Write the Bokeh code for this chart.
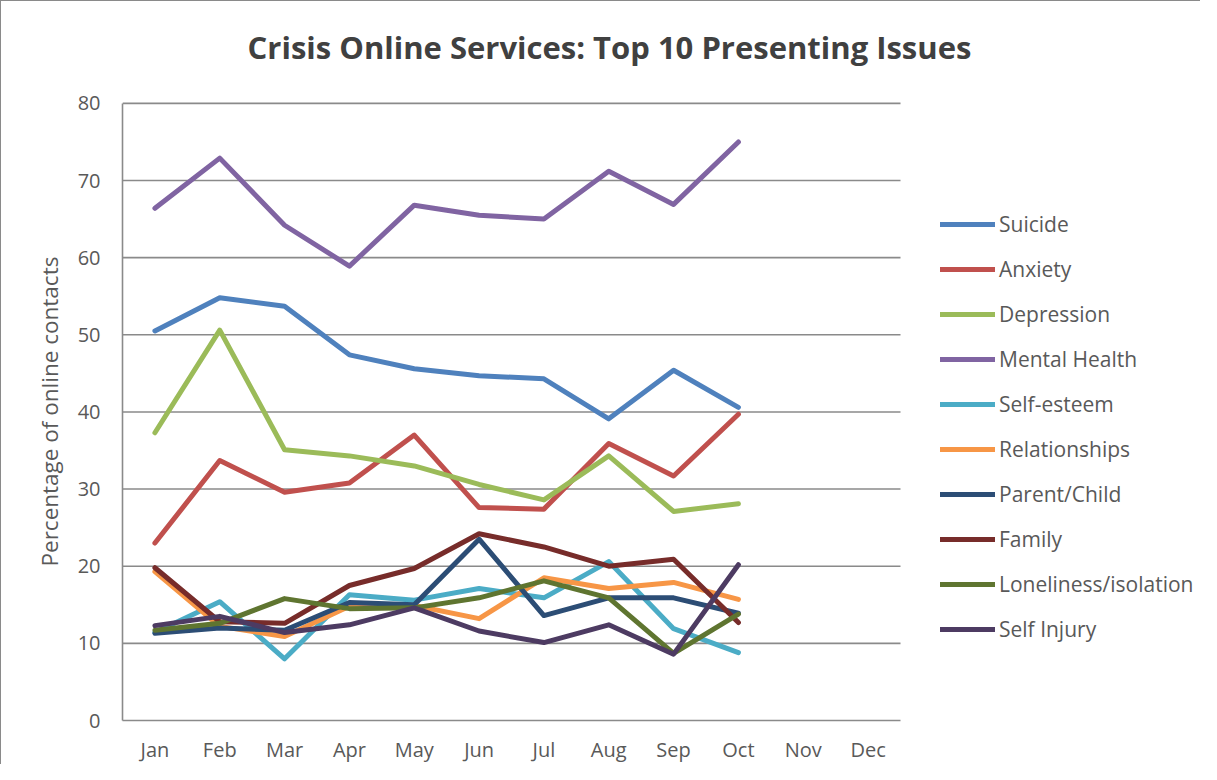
from bokeh.plotting import figure
from bokeh.models import Legend, LegendItem, Label, Range1d, FixedTicker, Title
from bokeh.embed import file_html
from bokeh.resources import INLINE

months = ["Jan", "Feb", "Mar", "Apr", "May", "Jun", "Jul", "Aug", "Sep", "Oct", "Nov", "Dec"]
data_months = months[:10]

series_names = ["Suicide", "Anxiety", "Depression", "Mental Health", "Self-esteem",
                "Relationships", "Parent/Child", "Family", "Loneliness/isolation", "Self Injury"]

suicide = [50.5, 54.8, 53.7, 47.4, 45.6, 44.7, 44.3, 39.1, 45.4, 40.6]
anxiety = [23.0, 33.7, 29.6, 30.8, 37.0, 27.6, 27.4, 35.9, 31.7, 39.7]
depression = [37.3, 50.6, 35.1, 34.3, 33.0, 30.6, 28.6, 34.3, 27.1, 28.1]
mental_health = [66.4, 72.9, 64.2, 58.9, 66.8, 65.5, 65.0, 71.2, 66.9, 75.0]
self_esteem = [11.4, 15.4, 8.0, 16.3, 15.6, 17.1, 15.9, 20.6, 11.9, 8.8]
relationships = [19.3, 12.2, 10.9, 14.8, 14.9, 13.2, 18.5, 17.1, 17.9, 15.7]
parent_child = [11.3, 12.0, 11.7, 15.3, 15.0, 23.5, 13.6, 15.9, 15.9, 13.9]
family = [19.8, 12.8, 12.6, 17.5, 19.7, 24.2, 22.5, 20.0, 20.9, 12.7]
loneliness = [11.7, 12.6, 15.8, 14.5, 14.6, 15.9, 18.1, 15.9, 8.7, 13.8]
self_injury = [12.3, 13.5, 11.4, 12.4, 14.6, 11.6, 10.1, 12.4, 8.6, 20.2]

series_values = [suicide, anxiety, depression, mental_health, self_esteem,
                 relationships, parent_child, family, loneliness, self_injury]
colors = ["#4F81BD", "#C0504D", "#9BBB59", "#8064A2", "#4BACC6",
          "#F79646", "#2C4D75", "#772C2A", "#5F7530", "#4D3B62"]
y_ticks = [0, 10, 20, 30, 40, 50, 60, 70, 80]

FONT = "Open Sans"
GRID = "#8A8A8A"
TXT = "#595959"

# category positions on a numeric axis (one unit per month)
n_cat = len(months)
cat_x = list(range(n_cat))
x_of = {m: i for i, m in enumerate(months)}
x_lo, x_hi = -0.5, n_cat - 0.5
y_lo, y_hi = y_ticks[0], y_ticks[-1]

W, H = 1200, 764
LEFT, BOTTOM = 121, 44
px_per_x = 778 / n_cat          # plot-area width per month
px_per_y = 618 / (y_hi - y_lo)  # plot-area height per unit

p = figure(width=W, height=H,
           x_range=Range1d(x_lo, x_lo + (W - LEFT) / px_per_x),
           y_range=Range1d(y_lo, y_lo + (H - BOTTOM) / px_per_y),
           output_backend="svg", toolbar_location=None,
           min_border_left=LEFT, min_border_right=0,
           min_border_top=0, min_border_bottom=BOTTOM)
p.title.visible = False
p.outline_line_color = None
p.background_fill_color = "white"
p.border_fill_color = "white"
p.styles = {"border-left": "1px solid #8A8A8A", "border-top": "1px solid #8A8A8A"}
p.grid.visible = False

# horizontal gridlines over the month band only
grid_y = y_ticks[1:]
p.segment(x0=[x_lo] * len(grid_y), x1=[x_hi] * len(grid_y), y0=grid_y, y1=grid_y,
          line_color=GRID, line_width=1.6)

p.xaxis.ticker = FixedTicker(ticks=cat_x)
p.xaxis.major_label_overrides = {i: m for i, m in enumerate(months)}
p.xaxis.bounds = (x_lo, x_hi)
p.yaxis.ticker = FixedTicker(ticks=y_ticks)
p.yaxis.bounds = (y_lo, y_hi)

for ax in (p.xaxis, p.yaxis):
    ax.axis_line_color = GRID
    ax.axis_line_width = 1.6
    ax.major_tick_line_color = None
    ax.minor_tick_line_color = None
    ax.major_label_text_font = FONT
    ax.major_label_text_font_size = "20px"
    ax.major_label_text_color = TXT

p.yaxis.major_label_standoff = 16
p.xaxis.major_label_standoff = 9

# y-axis title, centred on the 0-80 band (offset measured from frame bottom)
ytitle = Title(text="Percentage of online contacts", align="left", offset=154,
               vertical_align="bottom", standoff=19,
               text_font=FONT, text_font_size="22.5px", text_font_style="normal",
               text_color=TXT)
p.add_layout(ytitle, "left")

items = []
for name, vals, col in zip(series_names, series_values, colors):
    xs = [x_of[m] for m in data_months]
    r = p.line(x=xs, y=vals, line_color=col, line_width=5,
               line_cap="round", line_join="round")
    items.append(LegendItem(label=name, renderers=[r]))

legend = Legend(items=items, location=(818, 77), orientation="vertical",
                glyph_width=55, glyph_height=28, label_height=28, spacing=17,
                padding=0, margin=0, label_standoff=4,
                border_line_color=None, background_fill_alpha=0,
                label_text_font=FONT, label_text_font_size="21px",
                label_text_color=TXT)
p.add_layout(legend)

title = Label(x=487, y=674, x_units="screen", y_units="screen",
              text="Crisis Online Services: Top 10 Presenting Issues",
              text_align="center", text_baseline="middle",
              text_font=FONT, text_font_size="31px", text_font_style="bold",
              text_color="#404040")
p.add_layout(title)

open("out.html", "w").write(file_html(p, INLINE))
